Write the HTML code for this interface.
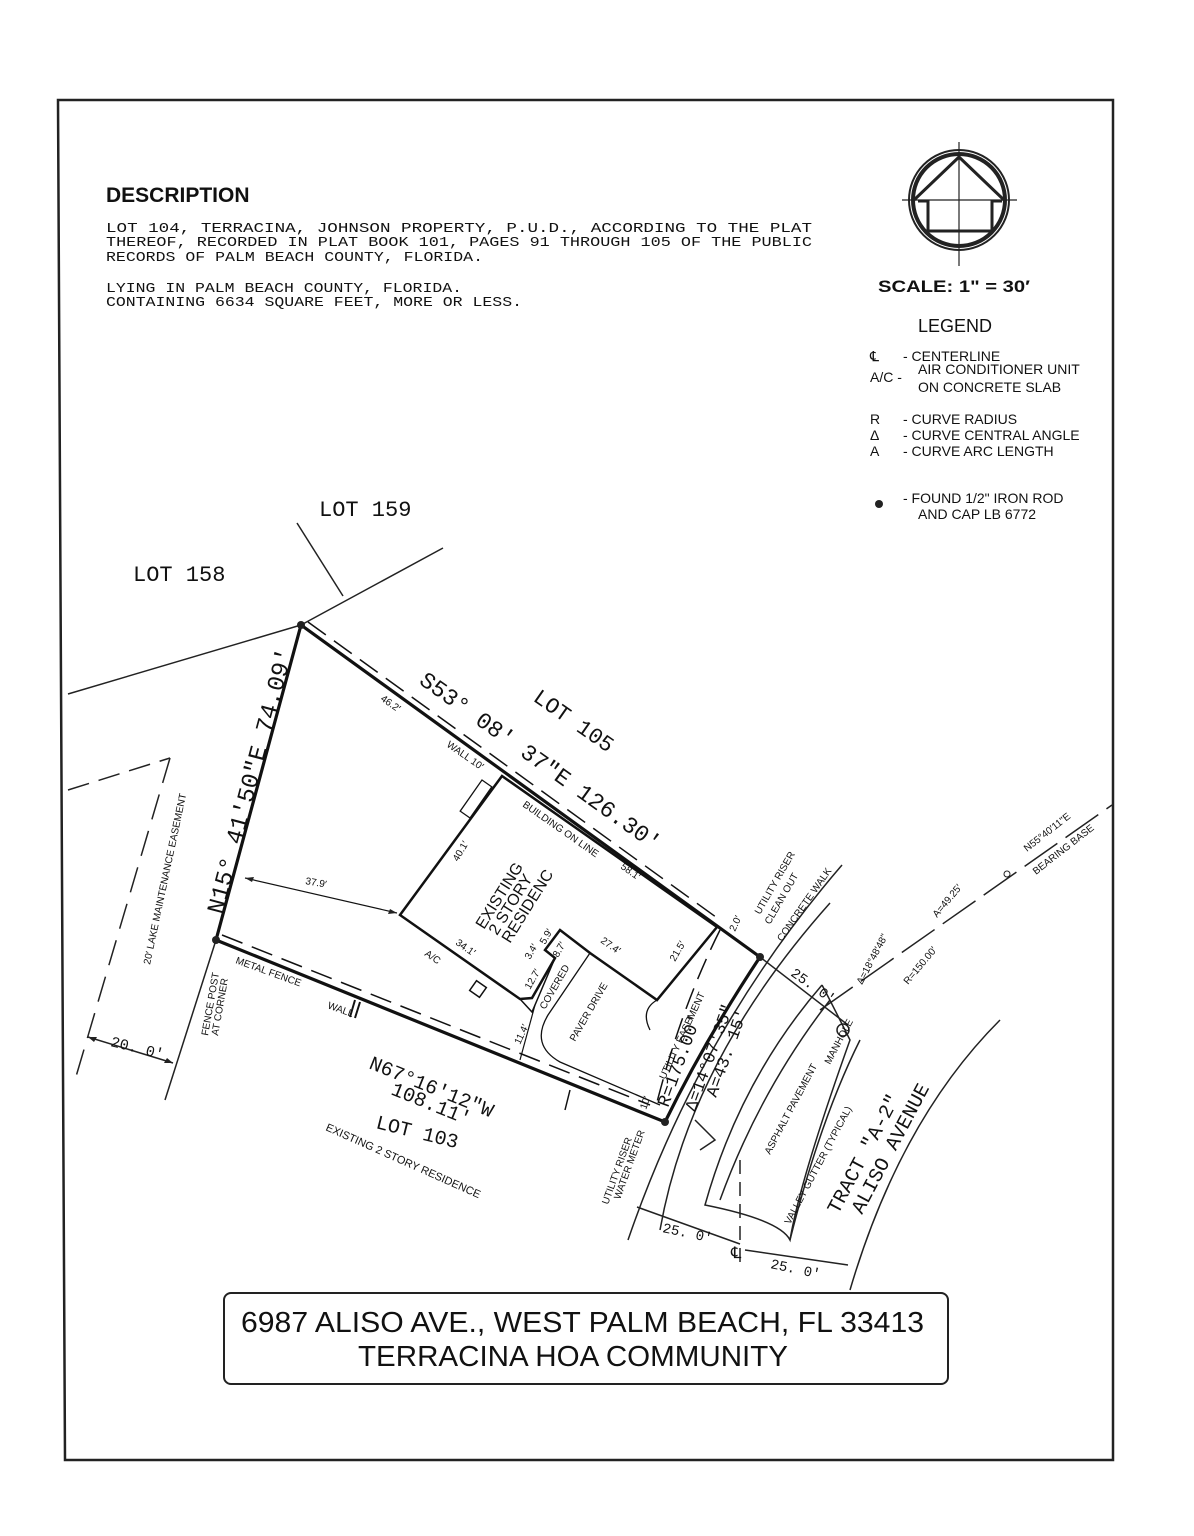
<!DOCTYPE html>
<html><head><meta charset="utf-8"><style>
html,body{margin:0;padding:0;background:#fff;}
svg{display:block;}
text{font-family:"Liberation Sans Narrow","Liberation Sans",sans-serif;fill:#111;}
.m{font-family:"Liberation Mono",monospace;}
</style></head><body>
<svg width="1194" height="1536" viewBox="0 0 1194 1536" xmlns="http://www.w3.org/2000/svg">
<path d="M58 100 L1113 100 L1113 1460 L65 1460 Z" fill="none" stroke="#222" stroke-width="2.5"/>

<text x="106" y="202" style="font-family:'Liberation Sans',sans-serif;font-weight:bold;font-size:21px">DESCRIPTION</text>
<g class="m" font-size="14">
<text class="m" x="106" y="232" textLength="706" lengthAdjust="spacingAndGlyphs">LOT 104, TERRACINA,  JOHNSON PROPERTY,  P.U.D.,  ACCORDING TO THE PLAT</text>
<text class="m" x="106" y="246" textLength="706" lengthAdjust="spacingAndGlyphs">THEREOF, RECORDED IN PLAT BOOK 101, PAGES 91 THROUGH 105 OF THE PUBLIC</text>
<text class="m" x="106" y="261" textLength="377" lengthAdjust="spacingAndGlyphs">RECORDS OF PALM BEACH COUNTY, FLORIDA.</text>
<text class="m" x="106" y="292" textLength="356" lengthAdjust="spacingAndGlyphs">LYING IN PALM BEACH COUNTY, FLORIDA.</text>
<text class="m" x="106" y="306" textLength="416" lengthAdjust="spacingAndGlyphs">CONTAINING 6634 SQUARE FEET, MORE OR LESS.</text>
</g>

<g stroke="#222" fill="none">
<circle cx="959" cy="200" r="50" stroke-width="2"/>
<circle cx="959" cy="200" r="46" stroke-width="4"/>
<line x1="959" y1="142" x2="959" y2="266" stroke-width="1.2"/>
<line x1="902" y1="200" x2="1017" y2="200" stroke-width="1.2"/>
<path d="M914 200 L959 157 L1004 200" stroke-width="3"/>
<path d="M918 201 L928 201 L928 231 L992 231 L992 201 L1002 201" stroke-width="3"/>
</g>
<text x="878" y="292" textLength="152" lengthAdjust="spacingAndGlyphs" style="font-family:'Liberation Sans',sans-serif;font-weight:bold;font-size:17px">SCALE:  1"  =  30′</text>
<text x="918" y="332" font-size="18">LEGEND</text>
<g font-size="14">
<text x="870" y="361">℄</text><text x="903" y="361">-  CENTERLINE</text>
<text x="870" y="382">A/C  -</text><text x="918" y="374">AIR CONDITIONER UNIT</text>
<text x="918" y="392">ON CONCRETE SLAB</text>
<text x="870" y="424">R</text><text x="903" y="424">-  CURVE RADIUS</text>
<text x="870" y="440">Δ</text><text x="903" y="440">-  CURVE CENTRAL ANGLE</text>
<text x="870" y="456">A</text><text x="903" y="456">-  CURVE ARC LENGTH</text>
<text x="903" y="503">-  FOUND 1/2" IRON ROD</text>
<text x="918" y="519">AND CAP LB 6772</text>
</g>
<circle cx="879" cy="504" r="4" fill="#222"/>

<text class="m" x="319" y="516" font-size="22">LOT 159</text>
<text class="m" x="133" y="581" font-size="22">LOT 158</text>

<g stroke="#222" fill="none" stroke-width="1.5">
<line x1="68" y1="694" x2="301" y2="625"/>
<line x1="301" y1="625" x2="443" y2="548"/>
<line x1="297" y1="523" x2="343" y2="596"/>
<line x1="216" y1="940" x2="165" y2="1100"/>
<path d="M68 790 L170 758" stroke-dasharray="22,10"/>
<path d="M170 758 L75 1080" stroke-dasharray="26,12"/>
<line x1="88" y1="1037" x2="173" y2="1063"/>
</g>
<path d="M88 1037 l9 0 l-3 5z M173 1063 l-9 0 l3 -5z" fill="#222"/>
<text x="110" y="1046" font-size="15" transform="rotate(14 110 1046)" class="m">20. 0′</text>
<text x="0" y="0" font-size="10" transform="translate(150 965) rotate(-78)">20′ LAKE MAINTENANCE EASEMENT</text>

<g stroke="#111" fill="none">
<path d="M301 625 L216 940 L665 1122 Q705 1040 760 957 L301 625" stroke-width="3.2"/>
<path d="M308 622 L720 920" stroke-width="1.5" stroke-dasharray="22,10"/>
<path d="M222 935 L650 1105" stroke-width="1.5" stroke-dasharray="22,10"/>
<path d="M720 930 Q680 1010 655 1110" stroke-width="1.5" stroke-dasharray="22,10"/>
<path d="M502 776 L717 927 L657 1000 L590 953 L560 930 L545 950 L555 958 L532 998 L520 999 L400 915 Z" stroke-width="2.5"/>
<path d="M520 999 L532 1012 L555 958" stroke-width="1.5"/>
<rect x="470" y="780" width="12" height="38" transform="rotate(35 476 799)" stroke-width="1.3"/>
<line x1="245" y1="878" x2="397" y2="913" stroke-width="1.2"/>
<line x1="520" y1="1060" x2="535" y2="1005" stroke-width="1.2"/>
<path d="M590 953 L548 1015 Q530 1045 560 1062 L660 1105" stroke-width="1.3"/>
<path d="M657 1000 Q640 1010 650 1030" stroke-width="1.3"/>
<rect x="472" y="983" width="12" height="12" transform="rotate(35 478 989)" stroke-width="1.5"/>
<line x1="355" y1="1000" x2="350" y2="1017" stroke-width="2"/>
<line x1="360" y1="1002" x2="355" y2="1018" stroke-width="2"/>
<line x1="570" y1="1090" x2="565" y2="1110" stroke-width="1.5"/>
</g>
<path d="M245 878 l9 -1 l-2 5z M397 913 l-9 1 l2 -5z" fill="#222"/>
<g fill="#222"><circle cx="301" cy="625" r="4"/><circle cx="216" cy="940" r="4"/><circle cx="665" cy="1122" r="4"/><circle cx="760" cy="957" r="4"/></g>

<g stroke="#222" fill="none" stroke-width="1.5">
<path d="M842 865 Q700 1030 628 1240"/>
<path d="M830 903 Q690 1060 660 1230"/>
<path d="M822 985 Q740 1080 705 1205 Q780 1220 790 1240 Q800 1180 850 1040 Q830 1000 822 985" />
<path d="M830 1000 Q760 1090 720 1200"/>
<path d="M860 1040 Q820 1120 790 1240"/>
<path d="M1000 1020 Q900 1120 850 1290"/>
<path d="M760 957 L848 1025"/>
<path d="M820 1010 L1112 805" stroke-dasharray="40,10"/>
<line x1="740" y1="1160" x2="740" y2="1270" stroke-dasharray="14,8"/>
<circle cx="843" cy="1030" r="6"/>
<line x1="637" y1="1207" x2="740" y2="1244"/>
<line x1="745" y1="1250" x2="848" y2="1265"/>
<path d="M695 1120 L715 1140 L700 1150"/>
</g>
<circle cx="1007" cy="874" r="3" fill="none" stroke="#222"/>

<text class="m" font-size="23" transform="translate(418 683) rotate(35.5)">S53° 08′ 37"E 126.30′</text>
<text class="m" font-size="24" transform="translate(222 915) rotate(-75)">N15° 41′50"E 74.09′</text>
<text class="m" font-size="22" transform="translate(532 700) rotate(35)">LOT 105</text>
<text class="m" font-size="20" transform="translate(368 1068) rotate(22)">N67°16′12"W</text>
<text class="m" font-size="20" transform="translate(390 1094) rotate(22)">108.11′</text>
<text class="m" font-size="20" transform="translate(375 1128) rotate(14)">LOT 103</text>
<text font-size="11" transform="translate(325 1130) rotate(24)">EXISTING 2 STORY RESIDENCE</text>
<text class="m" font-size="20" transform="translate(838 1215) rotate(-62)">TRACT "A-2"</text>
<text class="m" font-size="20" transform="translate(862 1215) rotate(-62)">ALISO AVENUE</text>
<text class="m" font-size="18" transform="translate(668 1108) rotate(-70)">R=175.00′</text>
<text class="m" font-size="17" transform="translate(695 1112) rotate(-70)">Δ=14°07′35"</text>
<text class="m" font-size="17" transform="translate(716 1098) rotate(-70)">A=43. 15′</text>
<text font-size="16" transform="translate(484 930) rotate(-58)">EXISTING</text>
<text font-size="16" transform="translate(497 936) rotate(-58)">2 STORY</text>
<text font-size="16" transform="translate(510 944) rotate(-58)">RESIDENC</text>

<g font-size="10">
<text transform="translate(380 700) rotate(35)">46.2′</text>
<text transform="translate(446 746) rotate(35)">WALL 10′</text>
<text transform="translate(522 806) rotate(35)">BUILDING ON LINE</text>
<text transform="translate(620 868) rotate(35)">58.1′</text>
<text transform="translate(458 862) rotate(-60)">40.1′</text>
<text transform="translate(455 944) rotate(35)">34.1′</text>
<text transform="translate(305 884) rotate(10)">37.9′</text>
<text transform="translate(600 942) rotate(35)">27.4′</text>
<text transform="translate(675 962) rotate(-60)">21.5′</text>
<text transform="translate(530 990) rotate(-60)">12.7′</text>
<text transform="translate(530 960) rotate(-60)">3.4′</text>
<text transform="translate(545 945) rotate(-60)">5.9′</text>
<text transform="translate(558 958) rotate(-60)">8.7′</text>
<text transform="translate(545 1010) rotate(-60)">COVERED</text>
<text transform="translate(520 1045) rotate(-65)">11.4′</text>
<text transform="translate(575 1042) rotate(-60)">PAVER DRIVE</text>
<text transform="translate(424 955) rotate(35)">A/C</text>
<text transform="translate(235 963) rotate(20)">METAL FENCE</text>
<text transform="translate(327 1008) rotate(20)">WALL</text>
<text transform="translate(208 1036) rotate(-80)">FENCE POST</text>
<text transform="translate(218 1036) rotate(-80)">AT CORNER</text>
<text transform="translate(665 1080) rotate(-65)">UTILITY EASEMENT</text>
<text transform="translate(735 932) rotate(-65)">2.0′</text>
<text transform="translate(760 915) rotate(-60)">UTILITY RISER</text>
<text transform="translate(770 925) rotate(-60)">CLEAN OUT</text>
<text transform="translate(782 942) rotate(-55)">CONCRETE WALK</text>
<text transform="translate(608 1205) rotate(-70)">UTILITY RISER</text>
<text transform="translate(620 1200) rotate(-70)">WATER METER</text>
<text transform="translate(646 1110) rotate(-70)">10′</text>
<text transform="translate(770 1155) rotate(-62)">ASPHALT PAVEMENT</text>
<text transform="translate(830 1065) rotate(-62)">MANHOLE</text>
<text transform="translate(790 1225) rotate(-62)">VALLEY GUTTER (TYPICAL)</text>
<text transform="translate(862 985) rotate(-62)">Δ=18°48′48"</text>
<text transform="translate(908 985) rotate(-50)">R=150.00′</text>
<text transform="translate(937 918) rotate(-50)">A=49.25′</text>
<text transform="translate(1027 852) rotate(-38)">N55°40′11"E</text>
<text transform="translate(1036 875) rotate(-38)">BEARING BASE</text>
</g>
<text class="m" font-size="14" transform="translate(790 975) rotate(35)">25. 0′</text>
<text class="m" font-size="14" transform="translate(662 1232) rotate(12)">25. 0′</text>
<text class="m" font-size="14" transform="translate(770 1268) rotate(12)">25. 0′</text>
<text font-size="16" x="731" y="1258">℄</text>

<rect x="224" y="1293" width="724" height="91" rx="7" fill="#fff" stroke="#222" stroke-width="2"/>
<text x="241" y="1332" textLength="683" lengthAdjust="spacingAndGlyphs" style="font-family:'Liberation Sans',sans-serif;font-size:29px">6987 ALISO AVE., WEST PALM BEACH, FL 33413</text>
<text x="358" y="1366" textLength="430" lengthAdjust="spacingAndGlyphs" style="font-family:'Liberation Sans',sans-serif;font-size:29px">TERRACINA HOA COMMUNITY</text>
</svg>
</body></html>
